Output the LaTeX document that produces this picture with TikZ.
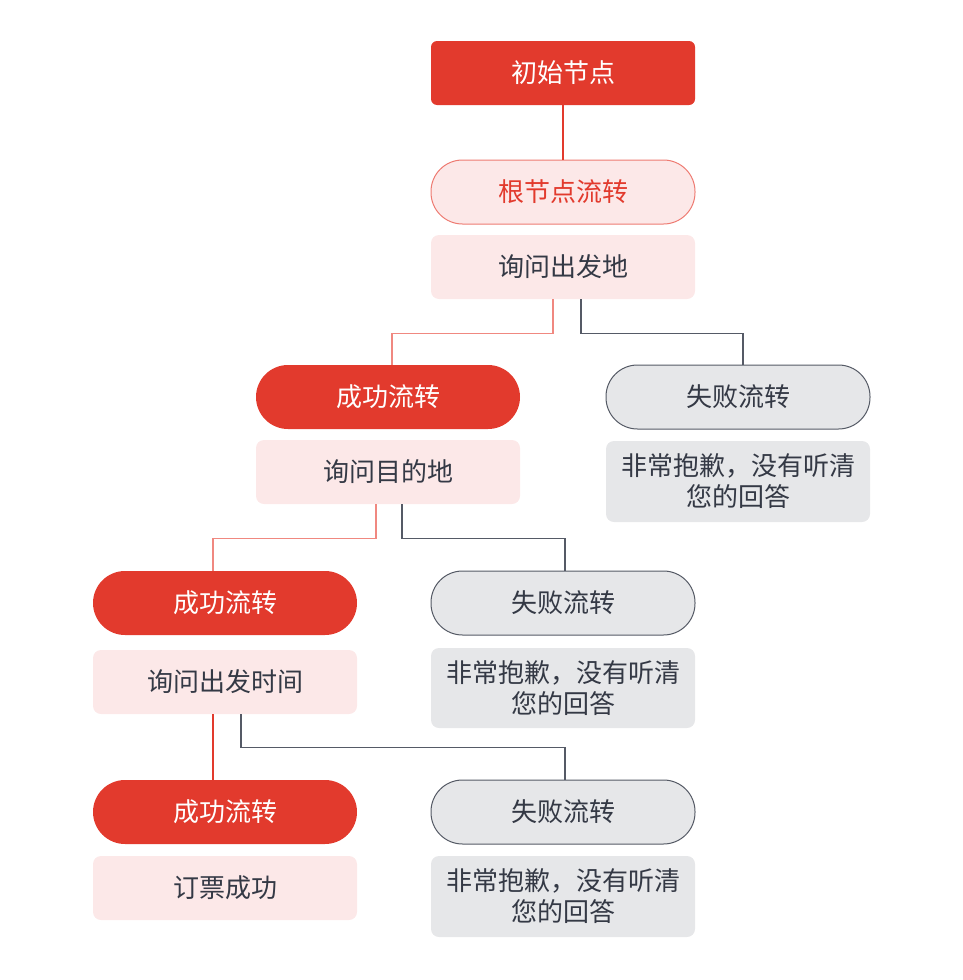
\documentclass[tikz,border=0pt]{standalone}
\usepackage{fontspec}
\setmainfont{Noto Sans CJK SC}
\definecolor{cred}{HTML}{E23A2D}
\definecolor{cpink}{HTML}{FCE8E8}
\definecolor{cpinkbd}{HTML}{EE7B72}
\definecolor{clred}{HTML}{F08880}
\definecolor{ctext}{HTML}{343945}
\definecolor{cgray}{HTML}{E6E7E9}
\definecolor{cgraybd}{HTML}{555A65}
\definecolor{cdark}{HTML}{555A66}
\tikzset{
  base/.style={minimum width=264pt, minimum height=64pt, inner sep=0pt, font=\fontsize{26}{31}\selectfont, align=center},
  initbox/.style={base, fill=cred, text=white, rounded corners=6pt},
  rootbox/.style={base, fill=cpink, draw=cpinkbd, line width=1pt, text=cred, rounded corners=31.5pt},
  okbox/.style={base, fill=cred, text=white, rounded corners=32pt},
  failbox/.style={base, fill=cgray, draw=cgraybd, line width=1pt, text=ctext, rounded corners=31.5pt},
  pinkbox/.style={base, fill=cpink, text=ctext, rounded corners=8pt},
  graybox/.style={base, fill=cgray, text=ctext, rounded corners=8pt},
  redline/.style={draw=clred, line width=1.3pt},
  strongred/.style={draw=cred, line width=1.6pt},
  darkline/.style={draw=cdark, line width=1.3pt},
}
\begin{document}
\begin{tikzpicture}[x=1pt,y=-1pt]
\useasboundingbox (0,0) rectangle (962,980);
% nodes
\node[initbox] (init) at (563,73) {初始节点};
\node[rootbox] (root) at (563,192) {根节点流转};
\node[pinkbox] (q1) at (563,267) {询问出发地};
\node[okbox] (s1) at (388,397) {成功流转};
\node[pinkbox] (q2) at (388,472) {询问目的地};
\node[failbox] (f1) at (738,397) {失败流转};
\node[graybox, minimum height=81pt] (e1) at (738,481.5) {非常抱歉，没有听清\\您的回答};
\node[okbox] (s2) at (225,603) {成功流转};
\node[pinkbox] (q3) at (225,682) {询问出发时间};
\node[failbox] (f2) at (563,603) {失败流转};
\node[graybox, minimum height=80pt] (e2) at (563,688) {非常抱歉，没有听清\\您的回答};
\node[okbox] (s3) at (225,812) {成功流转};
\node[pinkbox] (q4) at (225,888) {订票成功};
\node[failbox] (f3) at (563,812) {失败流转};
\node[graybox, minimum height=81pt] (e3) at (563,896.5) {非常抱歉，没有听清\\您的回答};
% connectors
\draw[strongred] (init.south) -- (root.north);
\draw[redline] ([xshift=-10pt]q1.south) -- ++(0,34) -| ([xshift=4pt]s1.north);
\draw[darkline] ([xshift=18pt]q1.south) -- ++(0,34) -| ([xshift=5pt]f1.north);
\draw[redline] ([xshift=-12pt]q2.south) -- ++(0,34) -| ([xshift=-12pt]s2.north);
\draw[darkline] ([xshift=14pt]q2.south) -- ++(0,34) -| ([xshift=2pt]f2.north);
\draw[strongred] ([xshift=-12pt]q3.south) -- ([xshift=-12pt]s3.north);
\draw[darkline] ([xshift=16pt]q3.south) -- ++(0,33) -| ([xshift=2pt]f3.north);
\end{tikzpicture}
\end{document}
